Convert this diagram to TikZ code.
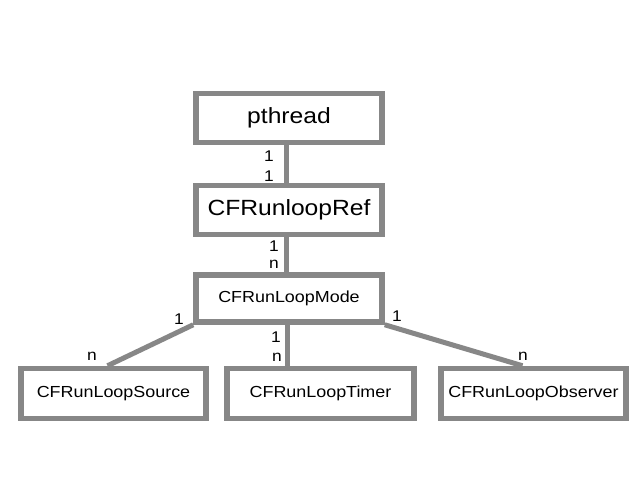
\documentclass[tikz,border=0pt]{standalone}
\usepackage{fontspec}
\setmainfont{Liberation Sans}[FakeStretch=1.12]
\usetikzlibrary{calc}
\definecolor{linegray}{RGB}{135,135,135}
\tikzset{
  box/.style={draw=linegray, line width=5.5pt, fill=white, inner sep=0pt, text=black},
  bigbox/.style={box, minimum width=186pt, minimum height=49pt, font=\fontsize{22}{26}\selectfont},
  smallbox/.style={box, minimum width=186pt, minimum height=50pt, font=\fontsize{16}{19}\selectfont},
  conn/.style={draw=linegray, line width=5pt},
  mult/.style={inner sep=0pt, text=black, font=\fontsize{15.5}{17}\selectfont}
}
\begin{document}
\begin{tikzpicture}[x=1pt,y=-1pt]
\useasboundingbox[fill=white] (0,0) rectangle (640,480);
\node[bigbox] (pth) at (289,118) {pthread};
\node[bigbox] (ref) at (289,210) {CFRunloopRef};
\node[smallbox, minimum height=47pt] (mode) at (289,298.5) {CFRunLoopMode};
\node[smallbox, minimum width=185pt] (src) at (113.5,393.5) {CFRunLoopSource};
\node[smallbox, minimum width=187pt] (tim) at (320.5,393.5) {CFRunLoopTimer};
\node[smallbox, minimum width=185pt] (obs) at (533.5,393.5) {CFRunLoopObserver};
\coordinate (pthb) at ($(pth.south)+(-3,0)$);
\coordinate (refb) at ($(ref.south)+(-3,0)$);
\coordinate (modeb) at ($(mode.south)+(-2,0)$);
\coordinate (srct) at ($(src.north)+(-6,0)$);
\coordinate (obst) at ($(obs.north)+(-11,0)$);
\draw[conn] (pthb) -- (pthb |- ref.north);
\draw[conn] (refb) -- (refb |- mode.north);
\draw[conn] (mode.south west) -- (srct);
\draw[conn] (modeb) -- (modeb |- tim.north);
\draw[conn] (mode.south east) -- (obst);
% multiplicities
\node[mult] (l1) at (269,156) {1};
\node[mult] (l2) at (269,176) {1};
\node[mult] (l3) at (274,246) {1};
\node[mult] (l4) at (274,264) {n};
\node[mult] (l5) at (179,319) {1};
\node[mult] (l6) at (92,356) {n};
\node[mult] (l7) at (276,337) {1};
\node[mult] (l8) at (277,357) {n};
\node[mult] (l9) at (397,316) {1};
\node[mult] (l10) at (523,356) {n};
\end{tikzpicture}
\end{document}
